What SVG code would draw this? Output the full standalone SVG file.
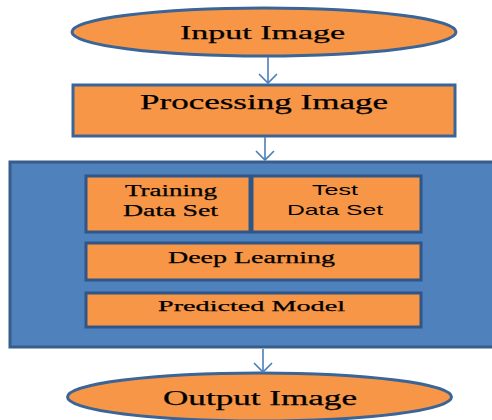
<svg xmlns="http://www.w3.org/2000/svg" width="492" height="420" viewBox="0 0 492 420">
<defs>
<marker id="chev" markerUnits="userSpaceOnUse" markerWidth="24" markerHeight="24" viewBox="-12 -12 24 24" refX="0" refY="0" orient="auto">
<path d="M-9,-9 L0,0 L-9,9" fill="none" stroke="#4a7ebb" stroke-width="1.6"/>
</marker>
<style>
.oval{fill:#f79646;stroke:#3b6497;stroke-width:3}
.box{fill:#f79646;stroke:#3b6497;stroke-width:3}
.inner{fill:#f79646;stroke:#2f5687;stroke-width:3}
.panel{fill:#4f81bd;stroke:#385d8a;stroke-width:3}
.t{font-family:"Liberation Serif","Times New Roman",serif;fill:#000;stroke:#000;stroke-width:0.25;text-anchor:start}
.s{font-family:"Liberation Sans",Arial,sans-serif;fill:#000;text-anchor:start}
.conn{stroke:#4a7ebb;stroke-width:1.6;fill:none}
</style>
</defs>
<rect width="492" height="420" fill="#fff"/>
<g id="input">
<ellipse class="oval" cx="264" cy="32" rx="192" ry="24"/>
<text class="t" x="180" y="39" font-size="19" textLength="165" lengthAdjust="spacingAndGlyphs">Input Image</text>
</g>
<g id="processing">
<rect class="box" x="73" y="85" width="382" height="51"/>
<text class="t" x="140" y="109" font-size="20" textLength="248" lengthAdjust="spacingAndGlyphs">Processing Image</text>
</g>
<g id="panel">
<rect class="panel" x="10" y="162" width="490" height="185"/>
</g>
<g id="training">
<rect class="inner" x="86" y="176" width="164" height="56"/>
<text class="t" x="125" y="196" font-size="16" textLength="92" lengthAdjust="spacingAndGlyphs">Training</text>
<text class="t" x="123" y="216" font-size="16" textLength="95" lengthAdjust="spacingAndGlyphs">Data Set</text>
</g>
<g id="test">
<rect class="inner" x="252" y="176" width="169" height="56"/>
<text class="s" x="312" y="195" font-size="15" textLength="46" lengthAdjust="spacingAndGlyphs">Test</text>
<text class="s" x="287" y="215" font-size="15" textLength="96" lengthAdjust="spacingAndGlyphs">Data Set</text>
</g>
<g id="deep">
<rect class="inner" x="86" y="243" width="335" height="37"/>
<text class="t" x="168" y="263" font-size="16" textLength="167" lengthAdjust="spacingAndGlyphs">Deep Learning</text>
</g>
<g id="predicted">
<rect class="inner" x="86" y="293" width="335" height="34"/>
<text class="t" x="158" y="311" font-size="15" textLength="187" lengthAdjust="spacingAndGlyphs">Predicted Model</text>
</g>
<g id="output">
<ellipse class="oval" cx="259.5" cy="397" rx="192" ry="24"/>
<text class="t" x="163" y="405" font-size="20" textLength="194" lengthAdjust="spacingAndGlyphs">Output Image</text>
</g>
<g id="connectors">
<line class="conn" x1="268" y1="57" x2="268" y2="83" marker-end="url(#chev)"/>
<line class="conn" x1="265" y1="137" x2="265" y2="160" marker-end="url(#chev)"/>
<line class="conn" x1="263" y1="349" x2="263" y2="372" marker-end="url(#chev)"/>
</g>
</svg>
